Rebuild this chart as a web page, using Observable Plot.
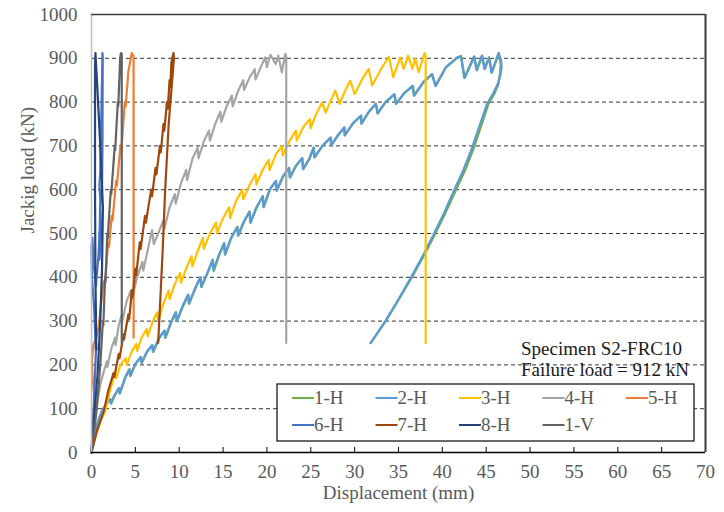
<!DOCTYPE html>
<html>
<head>
<meta charset="utf-8">
<script src="https://cdn.jsdelivr.net/npm/d3@7"></script>
<script src="https://cdn.jsdelivr.net/npm/@observablehq/plot@0.6"></script>
<style>
  html, body { margin: 0; padding: 0; background: #fff; }
  #chart { width: 724px; height: 512px; }
</style>
</head>
<body>
<div id="chart"></div>
<script>
// ---------- data ----------
const seriesNames = ["1-H", "2-H", "3-H", "4-H", "5-H", "6-H", "7-H", "8-H", "1-V"];
const seriesColors = ["#70AD47", "#5B9BD5", "#FFC000", "#A5A5A5", "#ED7D31", "#4472C4", "#9E480E", "#264478", "#636363"];

const s1H = [[0,0],[0.25,25],[0.45,45],[0.75,70],[1.2,94],[1.65,108],[2.15,122],[2.25,112],[2.65,130],[3.15,147],[3.25,135],[3.85,170],[4.35,190],[4.45,175],[5.05,203],[5.65,218],[5.75,205],[6.35,230],[6.95,245],[7.05,230],[7.75,262],[8.35,278],[8.45,262],[9.05,295],[9.65,320],[9.75,300],[10.45,335],[11.05,360],[11.15,340],[11.85,375],[12.45,400],[12.55,378],[13.25,410],[13.85,440],[13.95,415],[14.55,450],[15.15,478],[15.25,452],[15.95,490],[16.65,515],[16.75,495],[17.35,525],[18.05,550],[18.15,525],[18.85,560],[19.55,585],[19.65,560],[20.35,600],[21.05,620],[21.15,598],[21.85,630],[22.55,650],[22.65,628],[23.35,655],[24.05,672],[24.15,647],[24.85,670],[25.35,696],[25.45,674],[26.35,700],[27.3,719],[27.35,701],[28.15,725],[28.85,742],[28.9,724],[29.85,752],[30.75,769],[30.8,751],[31.65,778],[32.45,796],[32.65,774],[33.55,800],[34.55,818],[34.75,796],[35.65,820],[36.65,837],[36.8,815],[37.85,845],[38.85,864],[39.25,837],[40.45,880],[41.75,902],[42.15,905],[42.55,855],[43.65,904],[43.95,873],[44.55,906],[44.85,876],[45.35,902],[45.65,867],[46.45,912],[46.65,887],[46.6,870],[46.4,841],[45.95,820],[45.25,796],[44.5,750],[43.6,696],[42.6,645],[41.5,597],[40.35,547],[39.15,498],[37.9,450],[36.5,399],[35.05,350],[33.55,300],[31.85,250]];

const s2H = [[0,0],[0.2,25],[0.4,45],[0.7,70],[1.15,94],[1.6,108],[2.1,122],[2.2,112],[2.6,130],[3.1,147],[3.2,135],[3.8,170],[4.3,190],[4.4,175],[5.0,203],[5.6,218],[5.7,205],[6.3,230],[6.9,245],[7.0,230],[7.7,262],[8.3,278],[8.4,262],[9.0,295],[9.6,320],[9.7,300],[10.4,335],[11.0,360],[11.1,340],[11.8,375],[12.4,400],[12.5,378],[13.2,410],[13.8,440],[13.9,415],[14.5,450],[15.1,478],[15.2,452],[15.9,490],[16.6,515],[16.7,495],[17.3,525],[18.0,550],[18.1,525],[18.8,560],[19.5,585],[19.6,560],[20.3,600],[21.0,620],[21.1,598],[21.8,630],[22.5,650],[22.6,628],[23.3,655],[24.0,672],[24.1,647],[24.8,670],[25.3,696],[25.4,674],[26.3,700],[27.25,719],[27.3,701],[28.1,725],[28.8,742],[28.85,724],[29.8,752],[30.7,769],[30.75,751],[31.6,778],[32.4,796],[32.6,774],[33.5,800],[34.5,818],[34.7,796],[35.6,820],[36.6,837],[36.75,815],[37.8,845],[38.8,864],[39.2,837],[40.4,880],[41.7,902],[42.1,905],[42.5,855],[43.6,904],[43.9,873],[44.5,906],[44.8,876],[45.3,902],[45.6,867],[46.4,912],[46.7,895],[46.75,880],[46.6,860],[46.3,841],[45.8,820],[45.1,796],[44.3,750],[43.4,696],[42.4,645],[41.3,597],[40.2,547],[39.0,498],[37.8,450],[36.4,399],[35.0,350],[33.5,300],[31.8,250]];

const s3H = [[0,0],[0.3,25],[0.6,45],[1.0,70],[1.55,94],[2.1,140],[2.7,185],[2.8,170],[3.3,200],[3.9,215],[4.0,200],[4.6,231],[5.1,248],[5.2,232],[5.7,262],[6.3,282],[6.4,265],[7.0,300],[7.5,320],[7.6,300],[8.2,340],[8.8,370],[8.9,350],[9.5,385],[10.1,410],[10.2,388],[10.8,420],[11.4,448],[11.5,425],[12.1,460],[12.7,490],[12.8,465],[13.5,500],[14.2,525],[14.3,500],[15.0,535],[15.7,560],[15.8,535],[16.5,575],[17.2,600],[17.3,578],[18.0,610],[18.7,635],[18.8,612],[19.5,645],[20.2,668],[20.3,645],[21.0,680],[21.7,700],[21.8,678],[22.6,712],[23.3,735],[23.4,712],[24.2,745],[24.9,761],[24.97,740],[25.6,772],[26.3,799],[26.7,776],[27.3,805],[27.8,826],[28.3,796],[29.0,830],[29.5,849],[30.0,818],[30.8,850],[31.6,876],[32.0,838],[33.0,875],[33.9,904],[34.4,857],[35.2,902],[35.6,876],[36.1,906],[36.6,876],[36.9,899],[37.3,868],[37.97,912],[38.1,905],[38.1,250]];

const s4H = [[0,0],[0.2,40],[0.4,78],[0.7,120],[1.0,155],[1.4,185],[1.75,208],[1.8,195],[2.3,240],[2.7,262],[2.75,245],[3.1,290],[3.45,315],[3.5,298],[4.0,345],[4.5,370],[4.6,350],[5.2,400],[5.8,435],[5.9,415],[6.5,470],[6.9,508],[7.1,476],[7.6,500],[8.2,530],[8.3,510],[8.9,560],[9.5,590],[9.6,568],[10.2,615],[10.8,645],[10.9,622],[11.5,670],[12.1,696],[12.2,672],[12.8,710],[13.4,735],[13.5,712],[14.1,750],[14.7,778],[14.8,755],[15.4,790],[16.0,815],[16.1,790],[16.7,825],[17.3,850],[17.4,828],[18.0,855],[18.6,875],[18.7,852],[19.3,880],[19.8,902],[20.0,880],[20.4,908],[21.0,887],[21.3,906],[21.7,868],[22.1,910],[22.2,905],[22.2,250]];

const s5H = [[0,0],[0.2,60],[0.3,130],[0.1,180],[0.05,210],[0.2,245],[0.5,260],[0.8,285],[1.1,340],[1.4,390],[1.5,380],[1.9,480],[2.0,470],[2.3,540],[2.4,530],[2.8,620],[2.9,610],[3.3,700],[3.4,690],[3.8,800],[3.9,790],[4.2,870],[4.6,912],[4.8,905],[4.8,262]];

const s6H = [[0,0],[0.3,120],[0.5,230],[0.3,330],[0.05,400],[0,470],[0.1,490],[0.25,430],[0.5,380],[0.8,450],[0.95,520],[1.0,580],[0.9,610],[1.0,640],[1.1,750],[1.2,850],[1.25,912],[1.28,905],[1.25,700],[1.2,600],[1.0,560],[1.1,500],[0.9,440]];

const s7H = [[0,0],[0.6,48],[1.4,94],[1.9,140],[2.5,181],[2.6,172],[3.1,225],[3.2,215],[3.65,270],[3.7,258],[4.2,315],[4.3,305],[4.6,370],[4.7,355],[5.0,420],[5.1,405],[5.5,480],[5.6,465],[6.1,540],[6.2,525],[6.8,600],[6.9,585],[7.3,650],[7.4,635],[7.8,700],[7.9,685],[8.2,750],[8.3,735],[8.6,800],[8.7,785],[8.9,850],[9.0,835],[9.1,890],[9.35,912],[9.4,900],[8.8,750],[8.4,600],[8.1,455],[7.6,250]];

const s8H = [[0,0],[0.3,80],[0.7,180],[1.0,300],[1.2,420],[1.3,560],[1.0,700],[0.7,820],[0.45,912],[0.4,880],[0.4,600],[0.45,400],[0.55,235]];

const s1V = [[0,0],[0.3,50],[0.6,100],[1.0,200],[1.3,300],[1.35,290],[1.55,400],[1.6,390],[1.8,500],[1.85,490],[2.2,600],[2.25,590],[2.65,700],[2.7,690],[3.0,800],[3.05,790],[3.27,900],[3.35,912],[3.45,910],[3.45,250]];

const seriesData = [s1H, s2H, s3H, s4H, s5H, s6H, s7H, s8H, s1V];

const xTicks = [0, 5, 10, 15, 20, 25, 30, 35, 40, 45, 50, 55, 60, 65, 70];
const xInnerTicks = [5, 10, 15, 20, 25, 30, 35, 40, 45, 50, 55, 60, 65];
const yTicks = [0, 100, 200, 300, 400, 500, 600, 700, 800, 900, 1000];
const yGrid = [100, 200, 300, 400, 500, 600, 700, 800, 900];
const xDomain = [0, 70];
const yDomain = [0, 1000];

const xLabel = "Displacement (mm)";
const yLabel = "Jackig load (kN)";
const noteLines = ["Specimen S2-FRC10", "Failure load = 912 kN"];

// ---------- build table ----------
const rows = [];
seriesData.forEach((arr, i) => {
  arr.forEach(([x, y]) => rows.push({ s: seriesNames[i], x, y }));
});

const W = 724, H = 512;
const mL = 91, mR = 19, mT = 14, mB = 60;
const font = "Liberation Serif, serif";

const plot = Plot.plot({
  width: W,
  height: H,
  marginLeft: mL,
  marginRight: mR,
  marginTop: mT,
  marginBottom: mB,
  style: { fontFamily: font, fontSize: "19px", color: "#595959", background: "#fff" },
  x: { domain: xDomain },
  y: { domain: yDomain },
  color: { domain: seriesNames, range: seriesColors },
  marks: [
    Plot.ruleY(yGrid, { stroke: "#333", strokeWidth: 1, strokeDasharray: "4,3" }),
    Plot.line(rows, { x: "x", y: "y", z: "s", stroke: "s", strokeWidth: 2.2, strokeLinejoin: "round" }),
    Plot.ruleX([xDomain[0]], { stroke: "#bfbfbf", strokeWidth: 1.5 }),
    Plot.ruleY([yDomain[1]], { stroke: "#3a3a3a", strokeWidth: 1.5 }),
    Plot.ruleX([xDomain[1]], { stroke: "#3a3a3a", strokeWidth: 2 }),
    Plot.ruleY([yDomain[0]], { stroke: "#000", strokeWidth: 1.5 }),
    Plot.tickX(xInnerTicks, { x: d => d, stroke: "#000", strokeWidth: 1, insetTop: H - mT - mB - 5 }),
    Plot.axisX({ ticks: xTicks, tickSize: 0, tickPadding: 12, tickFormat: d => String(d), label: null, fill: "#595959", fontFamily: font }),
    Plot.axisY({ ticks: yTicks, tickSize: 0, tickPadding: 14, tickFormat: d => String(d), label: null, fill: "#595959", fontFamily: font }),
    Plot.text([xLabel], { text: d => d, frameAnchor: "bottom", dy: 46, fill: "#595959", fontSize: 19, fontFamily: font }),
    Plot.text([yLabel], { text: d => d, frameAnchor: "left", dx: -64, rotate: -90, fill: "#595959", fontSize: 19, fontFamily: font })
  ]
});

document.getElementById("chart").appendChild(plot);

// ---------- annotation & legend (overlay) ----------
const svg = d3.select(plot);
const g = svg.append("g").attr("font-family", font).attr("text-anchor", "start");

g.selectAll("text.note")
  .data(noteLines)
  .join("text")
  .attr("class", "note")
  .attr("x", 521)
  .attr("y", (d, i) => 355 + i * 20.5)
  .attr("text-anchor", "start")
  .attr("fill", "#1a1a1a")
  .attr("font-size", 19)
  .text(d => d);

const lg = g.append("g");
lg.append("rect")
  .attr("x", 277).attr("y", 384)
  .attr("width", 417).attr("height", 57)
  .attr("fill", "#fff").attr("stroke", "#1a1a1a").attr("stroke-width", 1.3);

seriesNames.forEach((name, i) => {
  const col = i % 5, row = Math.floor(i / 5);
  const x0 = 292 + col * 83.5;
  const y0 = 398 + row * 27;
  lg.append("line")
    .attr("x1", x0).attr("x2", x0 + 22)
    .attr("y1", y0).attr("y2", y0)
    .attr("stroke", seriesColors[i]).attr("stroke-width", 2);
  lg.append("text")
    .attr("x", x0 + 22).attr("y", y0)
    .attr("dy", "0.34em")
    .attr("text-anchor", "start")
    .attr("fill", "#595959")
    .attr("font-size", 19)
    .text(name);
});
</script>
</body>
</html>
